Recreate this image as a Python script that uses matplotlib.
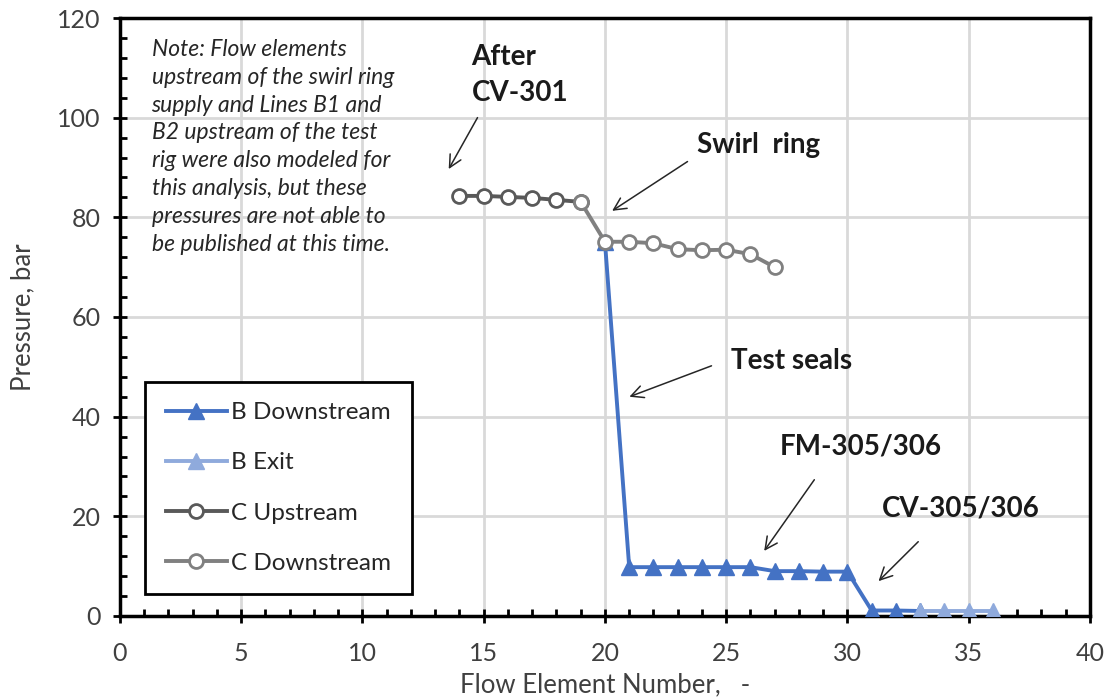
import matplotlib
matplotlib.use("Agg")
import matplotlib.pyplot as plt
from matplotlib.ticker import MultipleLocator

plt.rcParams['font.family'] = ['Lato', 'DejaVu Sans']

# series data
b_down_x = [20, 21, 22, 23, 24, 25, 26, 27, 28, 29, 30, 31, 32, 33]
b_down_y = [75.0, 9.8, 9.8, 9.8, 9.8, 9.8, 9.8, 9.0, 9.0, 8.9, 8.9, 1.1, 1.1, 1.0]
b_exit_x = [33, 34, 35, 36]
b_exit_y = [1.0, 1.0, 1.0, 1.0]
c_up_x = [14, 15, 16, 17, 18, 19]
c_up_y = [84.3, 84.3, 84.1, 83.9, 83.5, 83.1]
c_down_x = [19, 20, 21, 22, 23, 24, 25, 26, 27]
c_down_y = [83.1, 75.1, 75.1, 74.8, 73.6, 73.4, 73.5, 72.6, 70.0]

fig = plt.figure(figsize=(11.13, 6.98), dpi=100)
ax = fig.add_axes([0.1078, 0.1175, 0.8715, 0.8567])

ax.plot(b_down_x, b_down_y, color='#4472C4', lw=2.8, marker='^', ms=11,
        label='B Downstream', zorder=3)
ax.plot(b_exit_x, b_exit_y, color='#8FAADC', lw=2.8, marker='^', ms=11,
        label='B Exit', zorder=3)
ax.plot(c_up_x, c_up_y, color='#595959', lw=2.8, marker='o', ms=10,
        mfc='white', mew=2, label='C Upstream', zorder=4)
ax.plot(c_down_x, c_down_y, color='#808080', lw=2.8, marker='o', ms=10,
        mfc='white', mew=2, label='C Downstream', zorder=4)

ax.set_xlim(0, 40)
ax.set_ylim(0, 120)
ax.xaxis.set_major_locator(MultipleLocator(5))
ax.xaxis.set_minor_locator(MultipleLocator(1))
ax.yaxis.set_major_locator(MultipleLocator(20))
ax.yaxis.set_minor_locator(MultipleLocator(4))
ax.tick_params(which='major', direction='inout', length=10, width=2, labelsize=18,
               colors='black', labelcolor='#404040')
ax.tick_params(which='minor', direction='in', length=5, width=2)
ax.tick_params(axis='x', pad=14)
ax.tick_params(axis='y', pad=9)
ax.grid(True, which='major', color='#d9d9d9', lw=2, zorder=0)
ax.set_axisbelow(True)
for s in ax.spines.values():
    s.set_linewidth(2.5)

ax.set_xlabel('Flow Element Number,   -', fontsize=18.5, color='#404040', labelpad=5)
ax.set_ylabel('Pressure, bar', fontsize=18.5, color='#404040', labelpad=16)

note = ("Note: Flow elements\nupstream of the swirl ring\nsupply and Lines B1 and\n"
        "B2 upstream of the test\nrig were also modeled for\nthis analysis, but these\n"
        "pressures are not able to\nbe published at this time.")
ax.text(1.3, 115.8, note, fontsize=16.5, style='italic', color='#262626',
        va='top', ha='left', linespacing=1.4)

arrow = dict(arrowstyle='->', color='#262626', lw=1.1, mutation_scale=22)
lbl = dict(fontsize=20, fontweight='bold', color='#1a1a1a', ha='left', va='center')
ax.annotate('', xy=(13.5, 89.2), xytext=(14.8, 100.5), arrowprops=arrow)
ax.text(14.5, 108.6, 'After\nCV-301', linespacing=1.45, **lbl)
ax.annotate('', xy=(20.2, 81.0), xytext=(23.5, 91.5), arrowprops=arrow)
ax.text(23.8, 94.5, 'Swirl  ring', **lbl)
ax.annotate('', xy=(20.9, 43.8), xytext=(24.5, 50.4), arrowprops=arrow)
ax.text(25.2, 51.2, 'Test seals', **lbl)
ax.annotate('', xy=(26.5, 12.6), xytext=(28.7, 27.8), arrowprops=arrow)
ax.text(27.2, 34.0, 'FM-305/306', **lbl)
ax.annotate('', xy=(31.2, 6.6), xytext=(33.0, 15.3), arrowprops=arrow)
ax.text(31.4, 21.5, 'CV-305/306', **lbl)

leg = ax.legend(loc='lower left', bbox_to_anchor=(0.026, 0.036), fontsize=17.5,
                frameon=True, fancybox=False, edgecolor='black', borderpad=0.85,
                labelspacing=1.2, handlelength=2.5, handletextpad=0.2,
                borderaxespad=0)
leg.get_frame().set_linewidth(2)
leg.get_frame().set_alpha(1)
for t in leg.get_texts():
    t.set_color('#262626')

fig.savefig('out.png', dpi=100)
